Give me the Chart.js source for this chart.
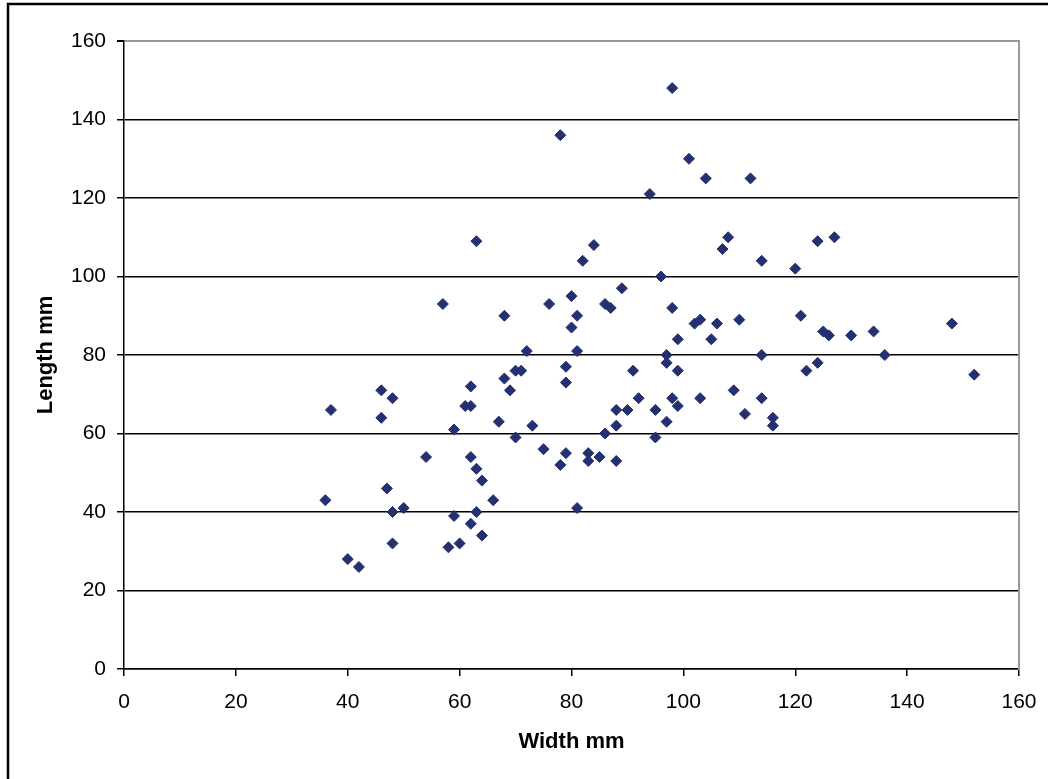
<!DOCTYPE html>
<html><head><meta charset="utf-8">
<script src="https://cdn.jsdelivr.net/npm/chart.js@4.4.0/dist/chart.umd.min.js"></script>
<style>html,body{margin:0;padding:0;background:#fff;overflow:hidden}#wrap{position:relative;width:1048px;height:779px}</style>
</head><body><div id="wrap"><canvas id="c" width="1048" height="779"></canvas></div>
<script>
const widthMm = [36,37,40,42,46,46,47,48,48,48,50,54,57,58,59,59,60,61,62,62,62,62,63,63,63,64,64,66,
  67,68,68,69,70,70,71,72,73,75,76,78,78,79,79,79,80,80,81,81,81,82,83,83,84,85,86,86,87,88,88,88,89,
  90,91,92,94,95,95,96,97,97,97,98,98,98,99,99,99,101,102,103,103,104,105,106,107,108,109,110,111,112,
  114,114,114,116,116,120,121,122,124,124,125,126,127,130,134,136,148,152];
const lengthMm = [43,66,28,26,71,64,46,69,40,32,41,54,93,31,61,39,32,67,67,72,54,37,51,40,109,48,34,43,
  63,90,74,71,76,59,76,81,62,56,93,52,136,55,77,73,95,87,90,81,41,104,55,53,108,54,60,93,92,53,62,66,97,
  66,76,69,121,66,59,100,80,78,63,148,92,69,67,84,76,130,88,89,69,125,84,88,107,110,71,89,65,125,
  104,80,69,64,62,102,90,76,78,109,86,85,110,85,86,80,88,75];
const xTicks = [0,20,40,60,80,100,120,140,160];
const yTicks = [0,20,40,60,80,100,120,140,160];
const xTitle = 'Width mm';
const yTitle = 'Length mm';

const points = widthMm.map((w,i)=>({x:w,y:lengthMm[i]}));
const FONT = "'Liberation Sans', Arial, sans-serif";

const framePlugin = {
  id:'frame',
  afterDraw(chart){
    const c = chart.ctx;
    c.save();
    c.strokeStyle = '#000';
    c.lineWidth = 2.5;
    c.beginPath();
    c.moveTo(8, 790); c.lineTo(8, 4); c.lineTo(1060, 4);
    c.stroke();
    c.restore();
  }
};

new Chart(document.getElementById('c'), {
  type:'scatter',
  data:{datasets:[{
    data: points,
    pointStyle:'rectRot',
    pointRadius:5.5,
    pointHoverRadius:5.5,
    borderWidth:1,
    backgroundColor:'#243070',
    borderColor:'#243070'
  }]},
  options:{
    responsive:false,
    animation:false,
    layout:{padding:{left:0, top:41, right:29, bottom:0}},
    plugins:{legend:{display:false}, tooltip:{enabled:false}},
    scales:{
      x:{
        type:'linear', position:'bottom', min:0, max:160,
        afterBuildTicks(s){ s.ticks = xTicks.map(v=>({value:v})); },
        afterFit(s){ s.height = 110; s.paddingLeft = 0; s.paddingRight = 0; },
        ticks:{color:'#000', font:{family:FONT, size:21}, padding:14, maxRotation:0},
        grid:{drawOnChartArea:false, drawTicks:true, tickLength:7, tickColor:'#000', lineWidth:1.5},
        border:{display:true, color:'#000', width:1.5},
        title:{display:true, text:xTitle, color:'#000', font:{family:FONT, size:22, weight:'bold'}, padding:{top:0, bottom:24}}
      },
      y:{
        type:'linear', position:'left', min:0, max:160,
        afterBuildTicks(s){ s.ticks = yTicks.map(v=>({value:v})); },
        afterFit(s){ s.width = 124; s.paddingTop = 0; s.paddingBottom = 0; },
        ticks:{color:'#000', font:{family:FONT, size:21}, padding:11},
        grid:{
          color:(ctx)=> (ctx.tick && ctx.tick.value === 160) ? '#9a9a9a' : '#000',
          lineWidth:(ctx)=> (ctx.tick && ctx.tick.value === 160) ? 2 : 1.5,
          drawTicks:true, tickLength:7, tickColor:'#000'
        },
        border:{display:true, color:'#000', width:1.5},
        title:{display:true, text:yTitle, color:'#000', font:{family:FONT, size:22, weight:'bold'}, padding:{top:32.5, bottom:0}}
      },
      y2:{
        type:'linear', position:'right', min:0, max:160, display:true,
        afterFit(s){ s.width = 0; s.paddingTop = 0; s.paddingBottom = 0; },
        ticks:{display:false},
        grid:{drawOnChartArea:false, drawTicks:false},
        border:{display:true, color:'#9a9a9a', width:2}
      }
    }
  },
  plugins:[framePlugin]
});
</script></body></html>
